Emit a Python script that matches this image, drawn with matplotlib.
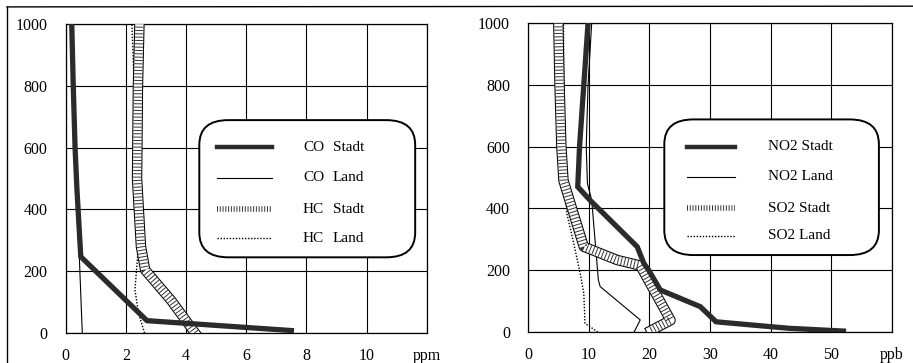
import numpy as np
import matplotlib
matplotlib.use('Agg')
import matplotlib.pyplot as plt
from matplotlib.patches import FancyBboxPatch
from matplotlib.lines import Line2D

plt.rcParams['font.family'] = ['Liberation Serif', 'DejaVu Serif']
plt.rcParams['lines.scale_dashes'] = False

# left panel: CO / HC in ppm, height in m
co_stadt_x = [7.5, 5.1, 2.7, 0.5, 0.37, 0.31, 0.25, 0.2]
co_stadt_y = [8, 24, 40, 247, 470, 600, 800, 1000]
co_land_x = [0.55, 0.45, 0.31, 0.25, 0.2]
co_land_y = [0, 250, 495, 750, 1000]
hc_stadt_x = [4.3, 3.5, 2.64, 2.5, 2.37, 2.4, 2.45]
hc_stadt_y = [0, 106, 204, 280, 500, 800, 1000]
hc_land_x = [2.62, 2.42, 2.3, 2.45, 2.35, 2.2]
hc_land_y = [0, 64, 140, 320, 600, 1000]

# right panel: NO2 / SO2 in ppb
no2_stadt_x = [52, 43, 31, 28.4, 21.8, 19.9, 19.1, 18, 10.2, 8.2, 8.5, 9.2, 9.9]
no2_stadt_y = [3, 12, 33, 82, 136, 200, 222, 276, 427, 470, 600, 800, 1000]
no2_land_x = [17.5, 18.5, 11.9, 11.6, 11.1, 10.5, 9.8, 9.6, 9.9, 10.5]
no2_land_y = [0, 39, 147, 168, 287, 427, 480, 600, 800, 1000]
so2_stadt_x = [20.3, 23.5, 18.5, 14.7, 9.2, 8.0, 5.85, 5.5, 5.2, 5.0]
so2_stadt_y = [5, 38, 215, 233, 276, 352, 490, 600, 800, 1000]
so2_land_x = [11.5, 9.4, 9.2, 8.6, 7.5, 6.4, 6.1, 5.95, 5.9, 5.85]
so2_land_y = [0, 28, 125, 190, 290, 384, 470, 600, 800, 1000]

left_ticks = [0, 2, 4, 6, 8, 10, 12]
left_labels = ['0', '2', '4', '6', '8', '10', 'ppm']
right_ticks = [0, 10, 20, 30, 40, 50, 60]
right_labels = ['0', '10', '20', '30', '40', '50', 'ppb']
y_ticks = [0, 200, 400, 600, 800, 1000]

left_names = [('CO', 'Stadt'), ('CO', 'Land'), ('HC', 'Stadt'), ('HC', 'Land')]
right_names = ['NO2 Stadt', 'NO2 Land', 'SO2 Stadt', 'SO2 Land']

DARK = '#2b2b2b'


def thick(ax, x, y, **kw):
    ax.plot(x, y, color=DARK, lw=3.8, solid_joinstyle='miter', zorder=4, **kw)


def thin(ax, x, y, **kw):
    ax.plot(x, y, color='k', lw=0.8, zorder=3, **kw)


def dotted(ax, x, y, **kw):
    ax.plot(x, y, color='k', lw=1.0, dashes=(1.0, 1.2), zorder=3, **kw)


def hatched(ax, x, y, **kw):
    # band with two outline strokes and cross strokes inside
    ax.plot(x, y, color='k', lw=7.5, zorder=3, **kw)
    ax.plot(x, y, color='white', lw=6, zorder=3, **kw)
    ax.plot(x, y, color='#333333', lw=6, dashes=(0.7, 1.7), zorder=3, **kw)


def setup(ax, ticks, labels):
    ax.set_xlim(ticks[0], ticks[-1])
    ax.set_ylim(0, 1000)
    ax.set_xticks(ticks)
    ax.set_xticklabels(labels)
    ax.set_yticks(y_ticks)
    ax.tick_params(length=0, labelsize=11.5)
    ax.tick_params(axis='x', pad=11)
    ax.tick_params(axis='y', pad=13)
    ax.grid(True, color='k', lw=0.8)
    ax.set_axisbelow(True)
    for s in ax.spines.values():
        s.set_color('k')
        s.set_linewidth(0.9)


def legend_box(ax, x0, y0, x1, y1):
    box = FancyBboxPatch((x0, y0), x1 - x0, y1 - y0,
                         boxstyle='round,pad=0,rounding_size=0.08',
                         transform=ax.transAxes, facecolor='white',
                         edgecolor='k', lw=1.4, zorder=6)
    ax.add_patch(box)


def legend_handles(ax, hx0, hx1, rows):
    tr = ax.transAxes
    kw = dict(transform=tr, zorder=7, clip_on=False)
    ax.plot([hx0, hx1], [rows[0]] * 2, color=DARK, lw=3.2, **kw)
    ax.plot([hx0, hx1], [rows[1]] * 2, color='k', lw=0.8, **kw)
    ax.plot([hx0, hx1], [rows[2]] * 2, color='#333333', lw=4, dashes=(0.7, 1.3), **kw)
    ax.plot([hx0, hx1], [rows[3]] * 2, color='k', lw=1.0, dashes=(1.0, 1.2), **kw)


fig = plt.figure(figsize=(9.13, 3.63), dpi=100)
ax1 = fig.add_axes([0.072, 0.0826, 0.3954, 0.8512])
ax2 = fig.add_axes([0.5783, 0.0854, 0.3987, 0.8512])

# left panel
setup(ax1, left_ticks, left_labels)
thin(ax1, co_land_x, co_land_y)
dotted(ax1, hc_land_x, hc_land_y)
hatched(ax1, hc_stadt_x, hc_stadt_y)
thick(ax1, co_stadt_x, co_stadt_y)

legend_box(ax1, 0.370, 0.245, 0.968, 0.689)
rows1 = [0.602, 0.502, 0.401, 0.307]
legend_handles(ax1, 0.419, 0.571, rows1)
for (a, b), yy in zip(left_names, rows1):
    ax1.text(0.657, yy, a, transform=ax1.transAxes, fontsize=11,
             va='center', ha='left', zorder=8)
    ax1.text(0.740, yy, b, transform=ax1.transAxes, fontsize=11,
             va='center', ha='left', zorder=8)

# right panel
setup(ax2, right_ticks, right_labels)
dotted(ax2, so2_land_x, so2_land_y)
thin(ax2, no2_land_x, no2_land_y)
hatched(ax2, so2_stadt_x, so2_stadt_y)
thick(ax2, no2_stadt_x, no2_stadt_y)

legend_box(ax2, 0.3745, 0.249, 0.964, 0.688)
rows2 = [0.599, 0.502, 0.401, 0.311]
legend_handles(ax2, 0.436, 0.569, rows2)
for name, yy in zip(right_names, rows2):
    ax2.text(0.659, yy, name, transform=ax2.transAxes, fontsize=11,
             va='center', ha='left', zorder=8)

# outer frame (top and left edge of the scanned box)
fig.add_artist(Line2D([0.0077, 1.0], [0.981, 0.983], color='k', lw=1.0,
                      transform=fig.transFigure))
fig.add_artist(Line2D([0.0077, 0.0077], [0.0, 0.981], color='k', lw=1.0,
                      transform=fig.transFigure))

fig.savefig('out.png', dpi=100)
